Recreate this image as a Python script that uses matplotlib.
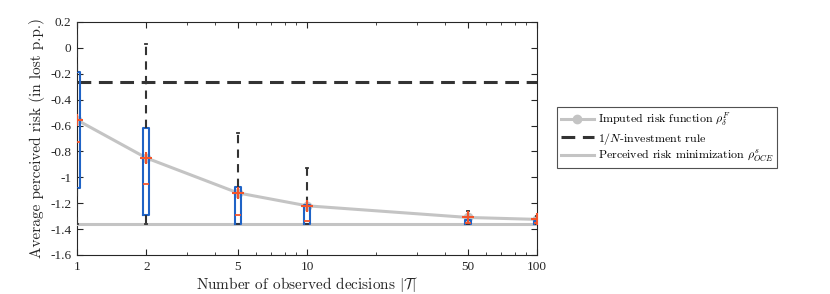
import matplotlib
matplotlib.use("Agg")
import matplotlib.pyplot as plt
from matplotlib.lines import Line2D

plt.rcParams['font.family'] = ['cmr10', 'DejaVu Serif']
plt.rcParams['mathtext.fontset'] = 'cm'
plt.rcParams['axes.formatter.use_mathtext'] = True

# ---- data ----
decisions = [1, 2, 5, 10, 50, 100]
mean_risk = [-0.557, -0.85, -1.12, -1.22, -1.31, -1.325]
median_risk = [-0.73, -1.05, -1.29, -1.34, -1.35, -1.35]
q1 = [-1.08, -1.29, -1.36, -1.36, -1.36, -1.36]
q3 = [-0.19, -0.62, -1.075, -1.215, -1.33, -1.34]
whis_lo = [-1.36, -1.36, -1.36, -1.36, -1.36, -1.36]
whis_hi = [0.2, 0.03, -0.66, -0.93, -1.26, -1.30]
one_over_n = -0.265
oce_min = -1.36
yticks = [0.2, 0, -0.2, -0.4, -0.6, -0.8, -1, -1.2, -1.4, -1.6]
ytick_labels = ['0.2', '0', '-0.2', '-0.4', '-0.6', '-0.8', '-1', '-1.2', '-1.4', '-1.6']
xtick_labels = ['1', '2', '5', '10', '50', '100']

fig = plt.figure(figsize=(8.3, 2.94), dpi=100)
ax = fig.add_axes([0.0928, 0.1327, 0.5542, 0.7925])
ax.set_xscale('log')

blue = '#1f63c6'
red = '#f2552c'
gray = '#c4c4c4'
dark = '#333333'

# boxplots
stats = []
for i in range(len(decisions)):
    stats.append(dict(med=median_risk[i], q1=q1[i], q3=q3[i],
                      whislo=whis_lo[i], whishi=whis_hi[i], fliers=[]))
widths = [d * 0.062 for d in decisions]
ax.bxp(stats, positions=decisions, widths=widths, showfliers=False,
       manage_ticks=False, patch_artist=False,
       boxprops=dict(color=blue, linewidth=1.5),
       whiskerprops=dict(color=dark, linewidth=1.5, linestyle=(0, (4, 3))),
       capprops=dict(color=dark, linewidth=1.3),
       medianprops=dict(color=red, linewidth=1.3),
       capwidths=[d * 0.02 for d in decisions], zorder=4)

# reference lines
ax.axhline(one_over_n, color=dark, linewidth=2.2, linestyle=(0, (4.5, 2.5)), zorder=3)
ax.axhline(oce_min, color=gray, linewidth=2.2, zorder=3)

# imputed risk curve
ax.plot(decisions, mean_risk, color=gray, linewidth=2.2, marker='o',
        markersize=6, markerfacecolor=gray, markeredgecolor=gray, zorder=3.5)
ax.plot(decisions, mean_risk, linestyle='none', marker='+', color=red,
        markersize=8, markeredgewidth=1.5, zorder=5)

ax.set_xlim(1, 100)
ax.set_ylim(-1.6, 0.2)
ax.set_xticks(decisions)
ax.set_xticklabels(xtick_labels)
ax.set_yticks(yticks)
ax.set_yticklabels(ytick_labels)
ax.tick_params(which='both', direction='in', top=True, right=True,
               colors='#262626', labelsize=9.5, pad=4)
ax.tick_params(which='major', length=4)
ax.tick_params(which='minor', length=2.5)
for lab in ax.get_xticklabels() + ax.get_yticklabels():
    lab.set_fontfamily('Liberation Serif')
for s in ax.spines.values():
    s.set_color('#262626')
    s.set_linewidth(0.8)

ax.set_xlabel(r'Number of observed decisions $|\mathcal{T}|$', fontsize=11,
              color='#262626', labelpad=2)
ax.set_ylabel('Average perceived risk (in lost p.p.)', fontsize=11,
              color='#262626', labelpad=4)

handles = [
    Line2D([], [], color=gray, linewidth=2.2, marker='o', markersize=6),
    Line2D([], [], color=dark, linewidth=2.2, linestyle=(0, (4.5, 2.5))),
    Line2D([], [], color=gray, linewidth=2.2),
]
labels = [r'Imputed risk function $\rho_\delta^F$',
          r'$1/N$-investment rule',
          r'Perceived risk minimization $\rho_{OCE}^s$']
leg = fig.legend(handles, labels, loc='center left',
                 bbox_to_anchor=(0.671, 0.532), fontsize=8.6,
                 frameon=True, fancybox=False, edgecolor='#262626',
                 handlelength=2.8, handletextpad=0.3, borderpad=0.3,
                 labelspacing=0.15, borderaxespad=0)
leg.get_frame().set_linewidth(0.8)

fig.savefig('out.png', dpi=100)
